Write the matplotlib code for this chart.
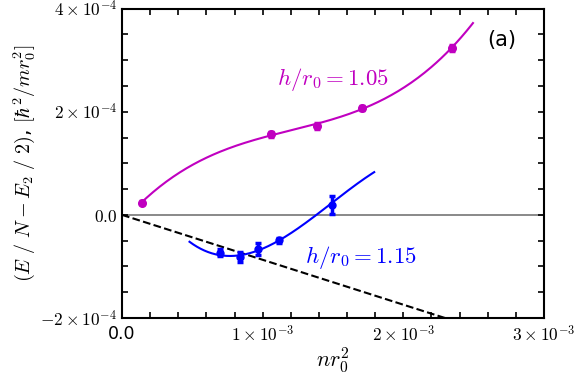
import numpy as np
import matplotlib
matplotlib.use('Agg')
import matplotlib.pyplot as plt
from matplotlib.ticker import MultipleLocator, FixedLocator

plt.rcParams['mathtext.fontset'] = 'cm'

# h/r0 = 1.05
n_a = [0.139e-3, 1.06e-3, 1.383e-3, 1.703e-3, 2.344e-3]
E_a = [0.24e-4, 1.56e-4, 1.73e-4, 2.07e-4, 3.24e-4]
err_a = [0.03e-4, 0.04e-4, 0.06e-4, 0.04e-4, 0.06e-4]
fit_a_range = [0.139e-3, 2.495e-3]

# h/r0 = 1.15
n_b = [0.697e-3, 0.836e-3, 0.966e-3, 1.114e-3, 1.493e-3]
E_b = [-0.73e-4, -0.82e-4, -0.66e-4, -0.49e-4, 0.195e-4]
err_b = [0.06e-4, 0.1e-4, 0.12e-4, 0.05e-4, 0.18e-4]
# points
curve_b_n = [0.48e-3, 0.8e-3, 1.114e-3, 1.385e-3, 1.793e-3]
curve_b_E = [-0.52e-4, -0.80e-4, -0.49e-4, 0.0, 0.83e-4]

slope = -0.0871  # dashed mean-field line

magenta = '#c000c0'
blue = '#0000ff'

fig = plt.figure(figsize=(5.82, 3.75), dpi=100)
ax = fig.add_axes([0.2096, 0.152, 0.7251, 0.825])

ax.axhline(0, color='gray', lw=1.3, zorder=1)
xd = np.array([0, 3e-3])
ax.plot(xd, slope * xd, 'k--', lw=1.5, zorder=2)

p_a = np.polyfit(n_a, E_a, 3)
xs = np.linspace(fit_a_range[0], fit_a_range[1], 200)
ax.plot(xs, np.polyval(p_a, xs), color=magenta, lw=1.5, zorder=3)

p_b = np.polyfit(curve_b_n, curve_b_E, 3)
xs = np.linspace(curve_b_n[0], curve_b_n[-1], 200)
ax.plot(xs, np.polyval(p_b, xs), color=blue, lw=1.5, zorder=3)

ax.errorbar(n_a, E_a, yerr=err_a, fmt='o', color=magenta, ms=5.5, elinewidth=2.5,
            capsize=2.5, capthick=2.5, zorder=4)
ax.errorbar(n_b, E_b, yerr=err_b, fmt='o', color=blue, ms=5, elinewidth=2.5,
            capsize=2.5, capthick=2.5, zorder=4)

ax.text(1.10e-3, 2.63e-4, r'$h/r_0 = 1.05$', color=magenta, fontsize=16.5, va='center')
ax.text(1.30e-3, -0.82e-4, r'$h/r_0 = 1.15$', color=blue, fontsize=16.5, va='center')
ax.text(0.865, 0.897, '(a)', transform=ax.transAxes, fontsize=15, va='center')

ax.set_xlim(0, 3e-3)
ax.set_ylim(-2e-4, 4e-4)
ax.xaxis.set_major_locator(FixedLocator([0, 1e-3, 2e-3, 3e-3]))
ax.xaxis.set_minor_locator(MultipleLocator(0.2e-3))
ax.yaxis.set_major_locator(FixedLocator([-2e-4, 0, 2e-4, 4e-4]))
ax.yaxis.set_minor_locator(MultipleLocator(0.5e-4))
ax.set_xticklabels(['0.0', r'$1\times10^{-3}$', r'$2\times10^{-3}$', r'$3\times10^{-3}$'])
ax.set_yticklabels([r'$-2\times10^{-4}$', r'$0.0$', r'$2\times10^{-4}$', r'$4\times10^{-4}$'])
ax.tick_params(which='both', direction='in', top=True, right=True,
               length=4, width=1.2, labelsize=12.5)
ax.tick_params(axis='x', pad=5)
for s in ax.spines.values():
    s.set_linewidth(1.5)

ax.set_xlabel(r'$nr_0^2$', fontsize=16, labelpad=0)
ax.set_ylabel(r'$(E\ /\ N - E_2\ /\ 2)$, $[\hbar^2/mr_0^2]$', fontsize=14.5, labelpad=2)

fig.savefig('out.png', dpi=100)
